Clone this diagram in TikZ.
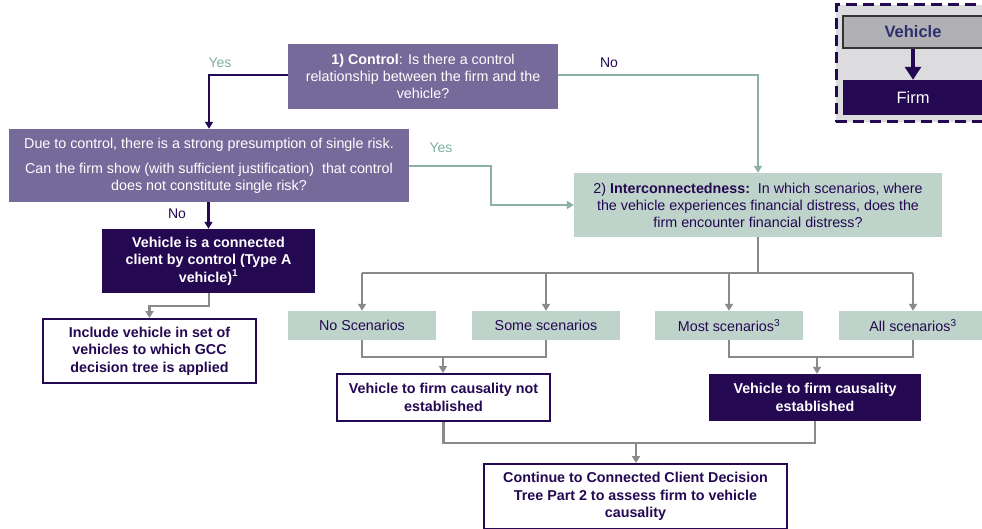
\documentclass[tikz,border=0pt]{standalone}
\usepackage{fontspec}
\setmainfont{Liberation Sans}
\usetikzlibrary{arrows.meta}

\definecolor{ctrlpurple}{RGB}{118,106,154}
\definecolor{deeppurple}{RGB}{36,8,82}
\definecolor{sage}{RGB}{190,211,202}
\definecolor{sageline}{RGB}{139,178,162}
\definecolor{sagetext}{RGB}{125,176,154}
\definecolor{flowgray}{RGB}{138,138,140}
\definecolor{legendbg}{RGB}{220,220,223}
\definecolor{vehgray}{RGB}{177,177,181}
\definecolor{vehnavy}{RGB}{44,48,110}

\tikzset{
  base/.style={inner sep=0pt, align=center, font=\fontsize{14.3}{17}\selectfont},
  question/.style={base, fill=ctrlpurple, text=white},
  outcome/.style={base, fill=deeppurple, text=white, font=\fontsize{14.3}{17.5}\selectfont\bfseries},
  result/.style={base, fill=white, draw=deeppurple, line width=2pt, text=deeppurple,
                 font=\fontsize{14.3}{17.5}\selectfont\bfseries},
  scen/.style={base, fill=sage, text=deeppurple, minimum width=148, minimum height=29},
  tipsty/.style={-{Triangle[width=8pt,length=7pt]}},
  yesline/.style={draw=deeppurple, line width=2.2pt},
  sageflow/.style={draw=sageline, line width=2pt},
  grayflow/.style={draw=flowgray, line width=2.6pt},
  lbl/.style={font=\fontsize{14}{16}\selectfont, inner sep=0pt},
}

\begin{document}
\begin{tikzpicture}[x={(1pt,0)}, y={(0,-1pt)}]
\useasboundingbox (0,0) rectangle (982,529);
\clip (0,0) rectangle (982,529);

% ---- legend ----
\node[draw=deeppurple, line width=3pt, dash pattern=on 11pt off 6pt, fill=legendbg,
      minimum width=156, minimum height=117, inner sep=0pt] (legend) at (914,63.5) {};
\node[base, fill=vehgray, draw=black!80, line width=1.6pt, minimum width=140, minimum height=32,
      text=vehnavy, font=\fontsize{16.5}{18}\selectfont\bfseries] (lveh) at (913,32) {Vehicle};
\node[base, fill=deeppurple, text=white, minimum width=140, minimum height=35,
      font=\fontsize{16.5}{18}\selectfont] (lfirm) at (913,97.5) {Firm};
\draw[draw=deeppurple, line width=3.2pt, -{Triangle[width=16pt,length=13pt]}] (lveh.south) -- (lfirm.north);

% ---- question boxes ----
\node[question, minimum width=270, minimum height=65] (ctrl) at (423,76.5)
  {\textbf{1) Control}: Is there a control\\relationship between the firm and the\\vehicle?};
\node[question, minimum width=400, minimum height=73] (due) at (209,165.5)
  {Due to control, there is a strong presumption of single risk.\\[8pt]
   Can the firm show (with sufficient justification)\ \ that control\\does not constitute single risk?};
\node[base, fill=sage, text=deeppurple, minimum width=368, minimum height=64] (inter) at (758,205)
  {2) \textbf{Interconnectedness:}\ \ In which scenarios, where\\the vehicle experiences financial distress, does the\\firm encounter financial distress?};

% ---- control outcome ----
\node[outcome, minimum width=213, minimum height=64] (conn) at (208.5,261)
  {Vehicle is a connected\\client by control (Type A\\vehicle)\textsuperscript{1}};
\node[result, minimum width=213, minimum height=64] (incl) at (149.5,351)
  {Include vehicle in set of\\vehicles to which GCC\\decision tree is applied};

% ---- scenarios ----
\node[scen] (s1) at (362,325.5) {No Scenarios};
\node[scen] (s2) at (546,325.5) {Some scenarios};
\node[scen] (s3) at (729,325.5) {Most scenarios\textsuperscript{3}};
\node[scen] (s4) at (913,325.5) {All scenarios\textsuperscript{3}};

\node[result, minimum width=213, minimum height=47] (notest) at (443.5,397.5)
  {Vehicle to firm causality not\\established};
\node[outcome, minimum width=212, minimum height=47] (est) at (815,397.5)
  {Vehicle to firm causality\\established};
\node[result, minimum width=303, minimum height=65] (cont) at (635.5,496.5)
  {Continue to Connected Client Decision\\Tree Part 2 to assess firm to vehicle\\causality};

% ---- connectors: control question ----
\coordinate (ctrlrow) at (423,75);
\draw[yesline, tipsty] (ctrl.west |- ctrlrow) -| (due.north);
\node[lbl, text=sagetext] (yes1) at (220,63) {Yes};
\draw[sageflow, tipsty] (ctrl.east |- ctrlrow) -| (inter.north);
\node[lbl, text=deeppurple] (no1) at (609,63) {No};

\coordinate (yk) at (491,166);
\draw[sageflow, tipsty] (due.east |- yk) -- (yk) |- (inter.west);
\node[lbl, text=sagetext] (yes2) at (441,148) {Yes};
\draw[yesline, tipsty] (due.south -| conn.north) -- (conn.north);
\node[lbl, text=deeppurple] (no2) at (177,214) {No};

\coordinate (ck) at (209,306);
\draw[grayflow, tipsty] (conn.south -| ck) -- (ck) -| (incl.north);

% ---- connectors: interconnectedness ----
\coordinate (bus) at (758,273);
\draw[grayflow] (inter.south) -- (bus);
\draw[grayflow] (s1.north |- bus) -- (s4.north |- bus);
\foreach \s in {s1,s2,s3,s4}{
  \draw[grayflow, tipsty] (\s.north |- bus) -- (\s.north);
}

\coordinate (lowL) at (443,357);
\draw[grayflow] (s1.south) -- (s1.south |- lowL) -- (s2.south |- lowL) -- (s2.south);
\draw[grayflow, tipsty] (lowL) -- (notest.north -| lowL);

\coordinate (lowR) at (817,357);
\draw[grayflow] (s3.south) -- (s3.south |- lowR) -- (s4.south |- lowR) -- (s4.south);
\draw[grayflow, tipsty] (lowR) -- (est.north -| lowR);

\coordinate (merge) at (636,443);
\draw[grayflow] (notest.south) -- (notest.south |- merge) -- (est.south |- merge) -- (est.south);
\draw[grayflow, tipsty] (merge) -- (cont.north -| merge);
\end{tikzpicture}
\end{document}
